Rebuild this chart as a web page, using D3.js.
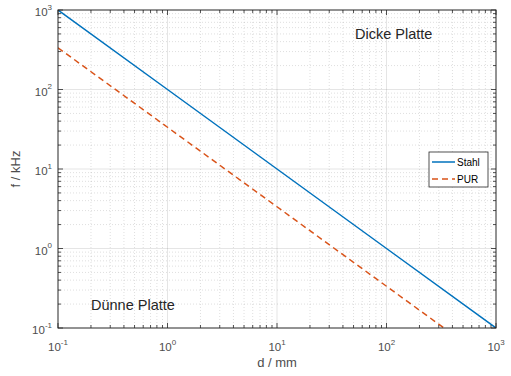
<!DOCTYPE html>
<html>
<head>
<meta charset="utf-8">
<script src="https://cdn.jsdelivr.net/npm/d3@7"></script>
<style>
  body { margin: 0; background: #fff; }
  svg { font-family: "Liberation Sans", Arial, sans-serif; }
</style>
</head>
<body>
<div id="chart"></div>
<script>
// plate thickness d (mm) and boundary frequency f (kHz)
const thickness = [0.1, 1, 10, 100, 1000];
const stahl = [1000, 100, 10, 1, 0.1];
const pur = [335, 33.5, 3.35, 0.335, 0.0335];
const seriesNames = ["Stahl", "PUR"];
const xTickExp = [-1, 0, 1, 2, 3];
const yTickExp = [-1, 0, 1, 2, 3];

const width = 511, height = 376;
const margin = { left: 58, right: 15, top: 10, bottom: 48 };
const iw = width - margin.left - margin.right;
const ih = height - margin.top - margin.bottom;
const axisColor = "#262626";
const labelColor = "#4d4d4d";

const svg = d3.select("#chart").append("svg")
  .attr("width", width)
  .attr("height", height);

const x = d3.scaleLog().domain([0.1, 1000]).range([0, iw]);
const y = d3.scaleLog().domain([0.1, 1000]).range([ih, 0]);

const g = svg.append("g").attr("transform", `translate(${margin.left},${margin.top})`);

svg.append("defs").append("clipPath").attr("id", "clip")
  .append("rect").attr("width", iw).attr("height", ih);

// minor / major positions
const minor = [];
for (let e = -1; e < 3; e++) {
  for (let m = 2; m <= 9; m++) minor.push(m * Math.pow(10, e));
}
const major = xTickExp.map(e => Math.pow(10, e));

// grid
const grid = g.append("g");
grid.selectAll(".vminor").data(minor).join("line")
  .attr("x1", d => x(d)).attr("x2", d => x(d)).attr("y1", 0).attr("y2", ih)
  .attr("stroke", axisColor).attr("stroke-opacity", 0.25)
  .attr("stroke-dasharray", "1,2").attr("stroke-width", 0.6);
grid.selectAll(".hminor").data(minor).join("line")
  .attr("y1", d => y(d)).attr("y2", d => y(d)).attr("x1", 0).attr("x2", iw)
  .attr("stroke", axisColor).attr("stroke-opacity", 0.25)
  .attr("stroke-dasharray", "1,2").attr("stroke-width", 0.6);
grid.selectAll(".vmajor").data(major.slice(1, -1)).join("line")
  .attr("x1", d => x(d)).attr("x2", d => x(d)).attr("y1", 0).attr("y2", ih)
  .attr("stroke", axisColor).attr("stroke-opacity", 0.12).attr("stroke-width", 1);
grid.selectAll(".hmajor").data(major.slice(1, -1)).join("line")
  .attr("y1", d => y(d)).attr("y2", d => y(d)).attr("x1", 0).attr("x2", iw)
  .attr("stroke", axisColor).attr("stroke-opacity", 0.12).attr("stroke-width", 1);

// lines
const line = d3.line().x(d => x(d[0])).y(d => y(d[1]));
const plot = g.append("g").attr("clip-path", "url(#clip)");
plot.append("path")
  .datum(thickness.map((d, i) => [d, stahl[i]]))
  .attr("fill", "none").attr("stroke", "#0072BD").attr("stroke-width", 1.5)
  .attr("d", line);
plot.append("path")
  .datum(thickness.map((d, i) => [d, pur[i]]))
  .attr("fill", "none").attr("stroke", "#D95319").attr("stroke-width", 1.5)
  .attr("stroke-dasharray", "6,4")
  .attr("d", line);

// ticks (inside, on all four sides)
const tk = g.append("g").attr("stroke", axisColor).attr("stroke-width", 0.8);
const tickSets = [[major, 5], [minor, 3]];
tickSets.forEach(([vals, len]) => {
  vals.forEach(v => {
    const px = x(v), py = y(v);
    tk.append("line").attr("x1", px).attr("x2", px).attr("y1", ih).attr("y2", ih - len);
    tk.append("line").attr("x1", px).attr("x2", px).attr("y1", 0).attr("y2", len);
    tk.append("line").attr("y1", py).attr("y2", py).attr("x1", 0).attr("x2", len);
    tk.append("line").attr("y1", py).attr("y2", py).attr("x1", iw).attr("x2", iw - len);
  });
});

// box
g.append("rect").attr("width", iw).attr("height", ih)
  .attr("fill", "none").attr("stroke", axisColor).attr("stroke-width", 1);

// tick labels
function powLabel(sel, e) {
  sel.append("tspan").text("10");
  sel.append("tspan").attr("dy", -6.5).attr("font-size", 8).text(e);
}
xTickExp.forEach(e => {
  const t = g.append("text")
    .attr("x", x(Math.pow(10, e))).attr("y", ih + 23)
    .attr("text-anchor", "middle").attr("font-size", 11.5).attr("fill", labelColor);
  powLabel(t, e);
});
yTickExp.forEach(e => {
  const t = g.append("text")
    .attr("x", -6).attr("y", y(Math.pow(10, e)) + 6)
    .attr("text-anchor", "end").attr("font-size", 11.5).attr("fill", labelColor);
  powLabel(t, e);
});

// axis labels
g.append("text").attr("x", iw / 2).attr("y", ih + 39)
  .attr("text-anchor", "middle").attr("font-size", 13).attr("fill", labelColor)
  .text("d / mm");
g.append("text").attr("transform", `translate(${-38},${ih / 2}) rotate(-90)`)
  .attr("text-anchor", "middle").attr("font-size", 13).attr("fill", labelColor)
  .text("f / kHz");

// annotations
g.append("text").attr("x", 297).attr("y", 29).attr("font-size", 14.5).attr("fill", axisColor)
  .text("Dicke Platte");
g.append("text").attr("x", 33).attr("y", 300).attr("font-size", 14.5).attr("fill", axisColor)
  .text("Dünne Platte");

// legend
const lg = g.append("g").attr("transform", `translate(${371},${142})`);
lg.append("rect").attr("width", 59).attr("height", 35)
  .attr("fill", "#fff").attr("stroke", axisColor).attr("stroke-width", 0.8);
const legendColors = ["#0072BD", "#D95319"];
seriesNames.forEach((name, i) => {
  const yy = 10 + i * 17;
  lg.append("line").attr("x1", 3).attr("x2", 26).attr("y1", yy).attr("y2", yy)
    .attr("stroke", legendColors[i]).attr("stroke-width", 1.5)
    .attr("stroke-dasharray", i === 1 ? "6,4" : null);
  lg.append("text").attr("x", 28).attr("y", yy + 3.5).attr("font-size", 10)
    .attr("fill", "#000").text(name);
});
</script>
</body>
</html>
